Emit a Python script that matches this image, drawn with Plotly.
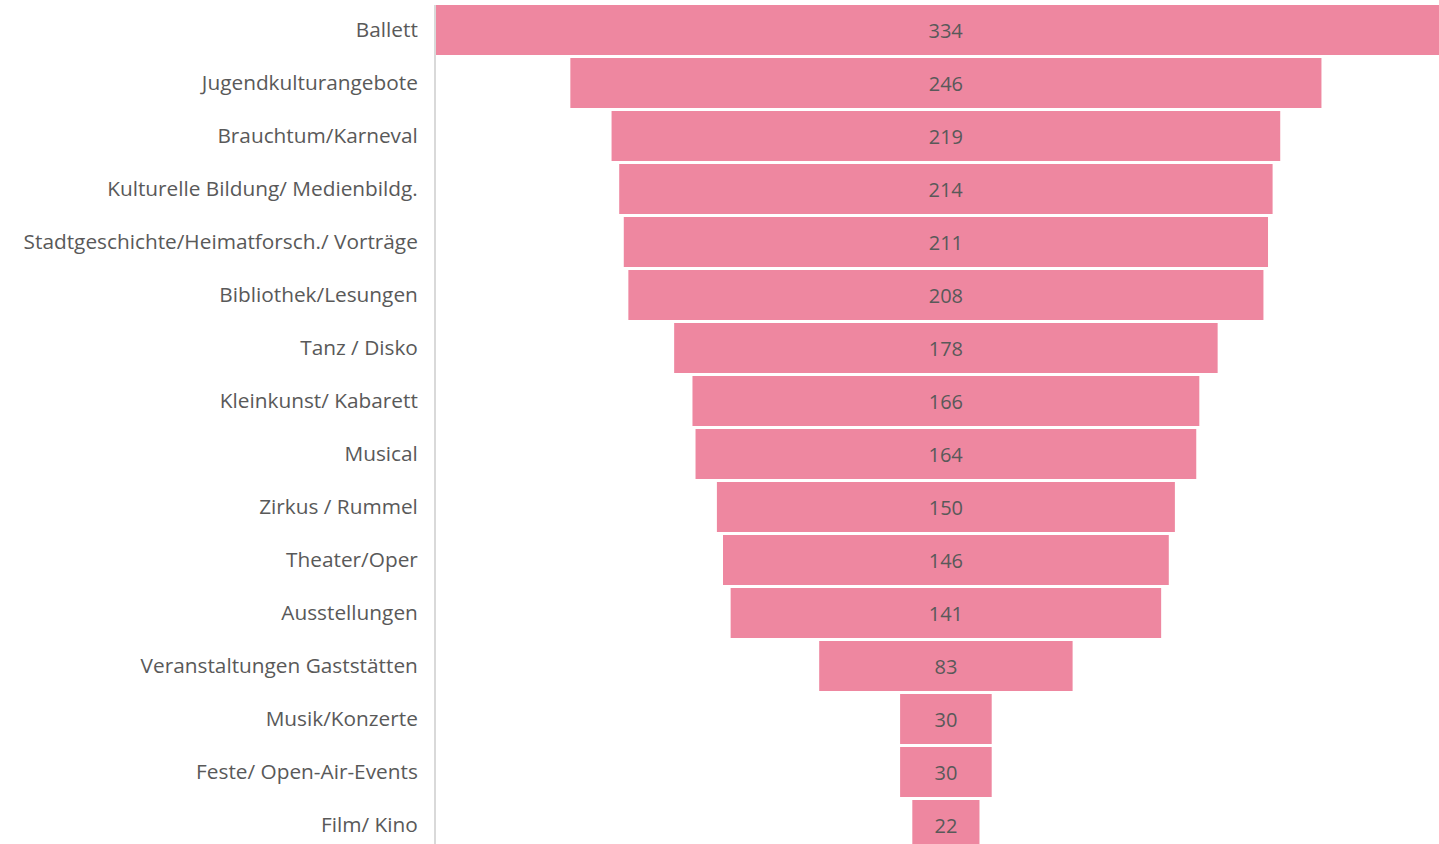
import plotly.graph_objects as go

categories = ["Ballett", "Jugendkulturangebote", "Brauchtum/Karneval", "Kulturelle Bildung/ Medienbildg.",
              "Stadtgeschichte/Heimatforsch./ Vorträge", "Bibliothek/Lesungen", "Tanz / Disko",
              "Kleinkunst/ Kabarett", "Musical", "Zirkus / Rummel", "Theater/Oper", "Ausstellungen",
              "Veranstaltungen Gaststätten", "Musik/Konzerte", "Feste/ Open-Air-Events", "Film/ Kino"]
values = [334, 246, 219, 214, 211, 208, 178, 166, 164, 150, 146, 141, 83, 30, 30, 22]

fig = go.Figure(go.Funnel(
    y=categories, x=values,
    marker=dict(color="#EE87A0", line=dict(width=0)),
    connector=dict(visible=False),
    textinfo="value", textposition="inside",
    insidetextfont=dict(family="Open Sans", size=20, color="#595959"),
    constraintext="none",
))

fig.update_layout(
    width=1439, height=844,
    margin=dict(l=436, r=0, t=5, b=0),
    paper_bgcolor="white", plot_bgcolor="white",
    funnelgap=0.06,
    showlegend=False,
    font=dict(family="Open Sans", color="#595959"),
)
fig.update_xaxes(range=[-167, 161.5], visible=False, showgrid=False, zeroline=False)
fig.update_yaxes(range=[15.358, -0.4717], autorange=False, showline=True, linecolor="#D9D9D9", linewidth=2,
                 ticks="", ticklabelstandoff=12, tickfont=dict(family="Open Sans", size=20.8, color="#595959"),
                 showgrid=False, zeroline=False)

fig.write_html("out.html", config={"displayModeBar": False},
               post_script="document.body.style.margin='0px';document.body.style.overflow='hidden';")
